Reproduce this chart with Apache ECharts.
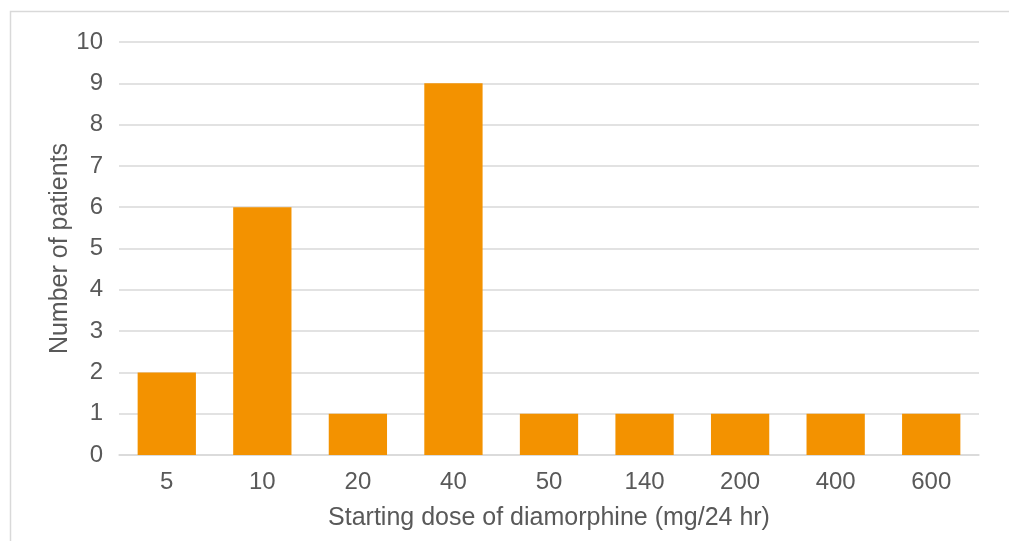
<!DOCTYPE html>
<html><head><meta charset="utf-8">
<script src="https://cdn.jsdelivr.net/npm/echarts@6/dist/echarts.min.js"></script>
<style>html,body{margin:0;padding:0;background:#fff}#c{width:1009px;height:541px}</style>
</head><body><div id="c"></div>
<script>
const categories = ['5','10','20','40','50','140','200','400','600'];
const patients = [2,6,1,9,1,1,1,1,1];
const yTicks = [0,1,2,3,4,5,6,7,8,9,10];
const xTitle = 'Starting dose of diamorphine (mg/24 hr)';
const yTitle = 'Number of patients';

const chart = echarts.init(document.getElementById('c'), null, {renderer:'canvas'});
const font = 'Liberation Sans, Arial, Helvetica, sans-serif';
chart.setOption({
  animation:false,
  graphic:[{type:'rect', shape:{x:10.5,y:11.5,width:1100,height:600}, style:{fill:'none', stroke:'#d9d9d9', lineWidth:1.5}}],
  grid:{left:119, right:30, top:42, bottom:86},
  xAxis:{type:'category', data:categories,
    axisLine:{lineStyle:{color:'#d9d9d9', width:1.5}}, axisTick:{show:false},
    axisLabel:{color:'#595959', fontSize:24, fontFamily:font, margin:15},
    name:xTitle, nameLocation:'middle', nameGap:51,
    nameTextStyle:{color:'#595959', fontSize:25, fontFamily:font}},
  yAxis:{type:'value', min:yTicks[0], max:yTicks[yTicks.length-1], interval:1,
    splitLine:{lineStyle:{color:'#d9d9d9', width:1.5}},
    axisLine:{show:false}, axisTick:{show:false},
    axisLabel:{color:'#595959', fontSize:24, fontFamily:font, margin:16},
    name:yTitle, nameLocation:'middle', nameGap:46, nameRotate:90, nameMoveOverlap:false,
    nameTextStyle:{color:'#595959', fontSize:25, fontFamily:font}},
  series:[{type:'bar', data:patients, barWidth:'61%', itemStyle:{color:'#F39200'}}]
});
</script></body></html>
